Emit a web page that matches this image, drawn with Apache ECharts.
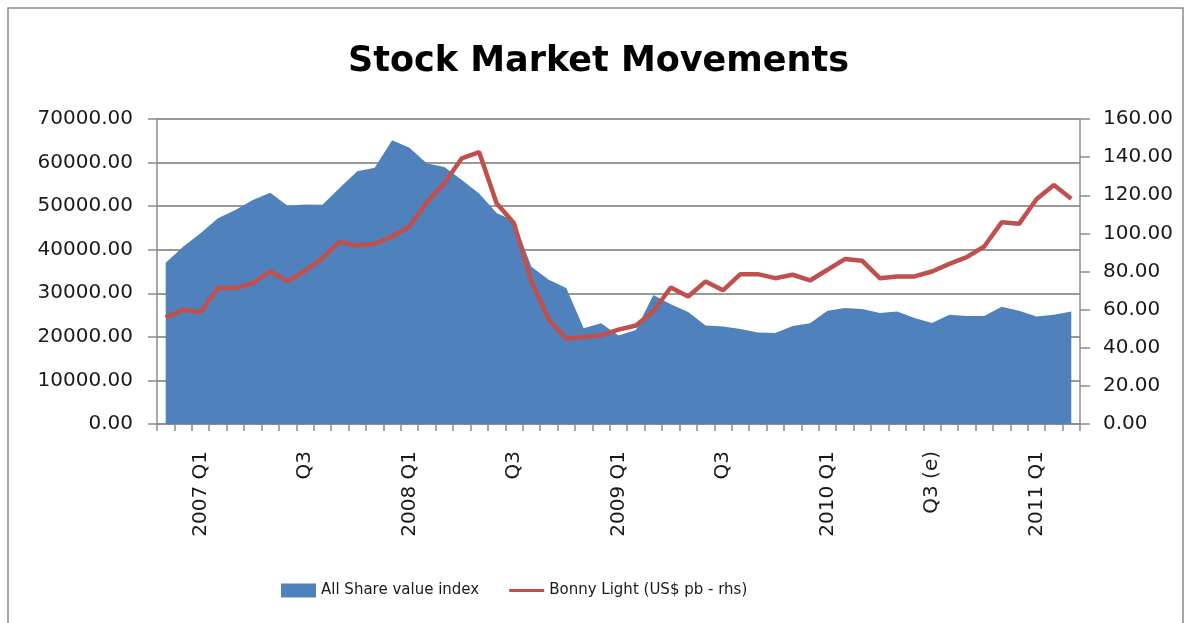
<!DOCTYPE html>
<html>
<head>
<meta charset="utf-8">
<title>Stock Market Movements</title>
<script src="https://cdn.jsdelivr.net/npm/echarts@6/dist/echarts.min.js"></script>
<style>
  html, body { margin: 0; padding: 0; background: #fff; }
  #chart { width: 1197px; height: 623px; }
</style>
</head>
<body>
<div id="chart"></div>
<script>
// monthly observations, Nov 2006 .. Mar 2011
const months = [
  '2006-11', '2006-12',
  '2007-01', '2007-02', '2007-03', '2007-04', '2007-05', '2007-06', '2007-07', '2007-08', '2007-09', '2007-10', '2007-11', '2007-12',
  '2008-01', '2008-02', '2008-03', '2008-04', '2008-05', '2008-06', '2008-07', '2008-08', '2008-09', '2008-10', '2008-11', '2008-12',
  '2009-01', '2009-02', '2009-03', '2009-04', '2009-05', '2009-06', '2009-07', '2009-08', '2009-09', '2009-10', '2009-11', '2009-12',
  '2010-01', '2010-02', '2010-03', '2010-04', '2010-05', '2010-06', '2010-07', '2010-08', '2010-09', '2010-10', '2010-11', '2010-12',
  '2011-01', '2011-02', '2011-03'
]

const tickLabels = {
  '2007-01': '2007 Q1', '2007-07': 'Q3',
  '2008-01': '2008 Q1', '2008-07': 'Q3',
  '2009-01': '2009 Q1', '2009-07': 'Q3',
  '2010-01': '2010 Q1', '2010-07': 'Q3 (e)',
  '2011-01': '2011 Q1'
}

const allShareIndex = [
  37000, 40700,
  43800, 47200, 49100, 51400, 53100, 50100, 50400, 50300, 54200, 58000, 58800, 65100,
  63400, 59800, 59000, 56000, 52900, 48400, 46600, 36100, 33100, 31200, 22000, 23100,
  20300, 21600, 29600, 27500, 25700, 22600, 22400, 21800, 21000, 20900, 22500, 23100,
  26000, 26600, 26400, 25500, 25800, 24300, 23200, 25100, 24800, 24800, 26900, 26000,
  24700, 25100, 25800
]

const bonnyLight = [
  55.9, 59.9,
  58.7, 71.3, 71.3, 73.9, 80.0, 74.8, 80.4, 87.0, 95.7, 93.6, 94.5, 98.4,
  103.6, 116.4, 126.3, 139.4, 142.6, 115.8, 105.3, 74.8, 54.7, 44.7, 45.6, 46.5,
  49.5, 51.7, 59.0, 71.6, 66.9, 74.8, 70.1, 78.6, 78.6, 76.5, 78.3, 75.3,
  80.9, 86.5, 85.6, 76.5, 77.4, 77.4, 80.0, 84.0, 87.5, 93.1, 105.8, 105.0,
  117.9, 125.4, 118.2
]

const font = '"DejaVu Sans", sans-serif'
const axisGray = '#8c8c8c'
const textColor = '#1a1a1a'

const chart = echarts.init(document.getElementById('chart'))

chart.setOption({
  animation: false,
  backgroundColor: '#fff',
  graphic: [
    {
      type: 'rect',
      shape: { x: 8, y: 8, width: 1175, height: 640 },
      style: { fill: 'none', stroke: '#8a8a8a', lineWidth: 1.5 },
      silent: true
    }
  ],
  title: {
    text: 'Stock Market Movements',
    left: 'center',
    top: 39,
    textStyle: { fontFamily: font, fontWeight: 'bold', fontSize: 35, color: '#000' }
  },
  legend: {
    left: 276,
    top: 578,
    itemWidth: 35,
    itemHeight: 14,
    itemGap: 30,
    textStyle: { fontFamily: font, fontSize: 15, color: textColor },
    data: [
      { name: 'All Share value index', icon: 'rect' },
      { name: 'Bonny Light (US$ pb - rhs)', icon: 'path://M0,0 L40,0 L40,3.6 L0,3.6 Z' }
    ]
  },
  grid: { left: 157, right: 117, top: 119, bottom: 199 },
  xAxis: {
    type: 'category',
    data: months,
    boundaryGap: true,
    axisLine: { lineStyle: { color: axisGray, width: 1.5 } },
    axisTick: { show: true, interval: 0, length: 7, lineStyle: { color: axisGray, width: 1.5 } },
    axisLabel: {
      interval: (index, value) => value in tickLabels,
      formatter: (value) => tickLabels[value] || '',
      rotate: 90,
      margin: 27,
      fontFamily: font,
      fontSize: 20,
      color: textColor
    }
  },
  yAxis: [
    {
      type: 'value',
      min: 0,
      max: 70000,
      interval: 10000,
      axisLine: { show: true, lineStyle: { color: axisGray, width: 1.5 } },
      axisTick: { show: true, length: 9, lineStyle: { color: axisGray, width: 1.5 } },
      splitLine: { lineStyle: { color: '#999', width: 2 } },
      axisLabel: {
        formatter: (v) => v.toFixed(2),
        margin: 24,
        fontFamily: font,
        fontSize: 20,
        color: textColor
      }
    },
    {
      type: 'value',
      min: 0,
      max: 160,
      interval: 20,
      axisLine: { show: true, lineStyle: { color: axisGray, width: 1.5 } },
      axisTick: { show: true, length: 10, lineStyle: { color: axisGray, width: 1.5 } },
      splitLine: { show: false },
      axisLabel: {
        formatter: (v) => v.toFixed(2),
        margin: 23,
        fontFamily: font,
        fontSize: 20,
        color: textColor
      }
    }
  ],
  series: [
    {
      name: 'All Share value index',
      type: 'line',
      data: allShareIndex,
      yAxisIndex: 0,
      symbol: 'none',
      lineStyle: { width: 0, color: '#4F81BD' },
      itemStyle: { color: '#4F81BD' },
      areaStyle: { color: '#4F81BD', opacity: 1 }
    },
    {
      name: 'Bonny Light (US$ pb - rhs)',
      type: 'line',
      data: bonnyLight,
      yAxisIndex: 1,
      symbol: 'none',
      lineStyle: { width: 4.5, color: '#C0504D' },
      itemStyle: { color: '#C0504D' }
    }
  ]
})
</script>
</body>
</html>
